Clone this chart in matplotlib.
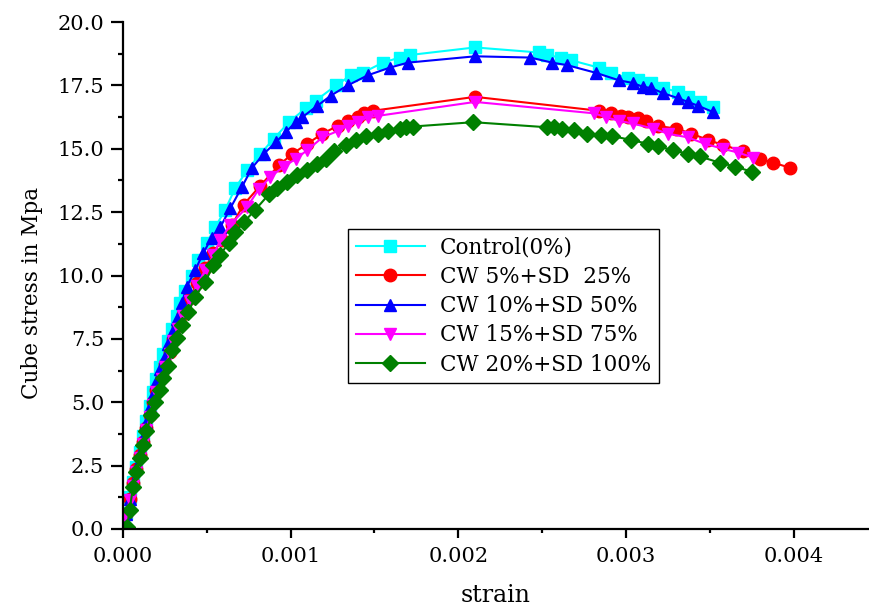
import matplotlib
matplotlib.use("Agg")
import matplotlib.pyplot as plt
from matplotlib.ticker import MultipleLocator, FormatStrFormatter

plt.rcParams['font.family'] = ['DejaVu Serif', 'Liberation Serif']

# ---- data (strain, stress in MPa) ----
control_strain = [0, 0.00002, 0.00004, 0.00006, 0.00008, 0.0001, 0.00012, 0.00014, 0.00016, 0.00018,
                  0.0002, 0.00022, 0.00024, 0.00027, 0.00029, 0.00032, 0.00034, 0.00037, 0.00041,
                  0.00045, 0.0005, 0.00055, 0.00061, 0.00067, 0.00074, 0.00082, 0.0009, 0.00099,
                  0.00109, 0.00115, 0.00127, 0.00136, 0.00143, 0.00155, 0.00165, 0.00171, 0.0021,
                  0.00248, 0.00253, 0.00261, 0.00267, 0.00284, 0.00291, 0.00301, 0.00307, 0.00315,
                  0.00322, 0.00331, 0.00337, 0.00344, 0.00352]
control_stress = [0, 0.65, 1.25, 1.85, 2.45, 3.05, 3.65, 4.25, 4.85, 5.4,
                  5.9, 6.4, 6.9, 7.4, 7.9, 8.4, 8.9, 9.4, 10.0,
                  10.6, 11.3, 11.9, 12.6, 13.45, 14.15, 14.8, 15.4, 16.05,
                  16.6, 16.9, 17.5, 17.9, 18.0, 18.4, 18.6, 18.7, 19.0,
                  18.8, 18.7, 18.6, 18.5, 18.2, 18.0, 17.8, 17.7, 17.6,
                  17.4, 17.25, 17.05, 16.85, 16.65]

cw5_strain = [0, 0.00002, 0.00004, 0.00006, 0.00008, 0.0001, 0.00012, 0.00014, 0.00016, 0.00018,
              0.0002, 0.00023, 0.00025, 0.00028, 0.0003, 0.00033, 0.00036, 0.0004, 0.00044,
              0.00049, 0.00054, 0.00059, 0.00065, 0.00072, 0.00082, 0.00093, 0.00101, 0.0011,
              0.00119, 0.00128, 0.00134, 0.0014, 0.00144, 0.00149, 0.0021, 0.00284, 0.00291,
              0.00297, 0.00301, 0.00307, 0.00312, 0.00319, 0.0033, 0.00339, 0.00349, 0.00358,
              0.0037, 0.0038, 0.00388, 0.00398]
cw5_stress = [0, 0.6, 1.2, 1.8, 2.35, 2.9, 3.45, 4.0, 4.5, 5.0,
              5.5, 6.0, 6.5, 7.0, 7.5, 8.0, 8.5, 9.1, 9.7,
              10.3, 10.9, 11.4, 12.0, 12.8, 13.55, 14.35, 14.8, 15.2,
              15.6, 15.9, 16.1, 16.25, 16.4, 16.5, 17.05, 16.5, 16.4,
              16.3, 16.25, 16.2, 16.1, 15.9, 15.8, 15.6, 15.35, 15.15,
              14.9, 14.6, 14.45, 14.25]

cw10_strain = [0, 0.00002, 0.00004, 0.00006, 0.00008, 0.0001, 0.00012, 0.00014, 0.00016, 0.00018,
               0.0002, 0.00022, 0.00025, 0.00027, 0.0003, 0.00032, 0.00035, 0.00038, 0.00043,
               0.00048, 0.00053, 0.00058, 0.00064, 0.00071, 0.00077, 0.00084, 0.00091, 0.00097,
               0.00103, 0.00107, 0.00116, 0.00124, 0.00134, 0.00146, 0.00159, 0.0017, 0.0021,
               0.00243, 0.00256, 0.00265, 0.00282, 0.00296, 0.00304, 0.0031, 0.00315, 0.00322,
               0.00331, 0.00337, 0.00343, 0.00352]
cw10_stress = [0, 0.6, 1.2, 1.8, 2.4, 3.0, 3.6, 4.2, 4.8, 5.3,
               5.8, 6.3, 6.8, 7.3, 7.8, 8.3, 8.9, 9.55, 10.2,
               10.9, 11.5, 11.9, 12.65, 13.5, 14.25, 14.8, 15.25, 15.65,
               16.05, 16.25, 16.7, 17.1, 17.5, 17.9, 18.2, 18.4, 18.65,
               18.6, 18.4, 18.3, 18.0, 17.7, 17.6, 17.45, 17.4, 17.2,
               17.0, 16.85, 16.7, 16.45]

cw15_strain = [0, 0.00002, 0.00004, 0.00006, 0.00008, 0.0001, 0.00012, 0.00014, 0.00016, 0.00018,
               0.0002, 0.00023, 0.00025, 0.00028, 0.0003, 0.00033, 0.00036, 0.0004, 0.00044,
               0.00049, 0.00054, 0.00058, 0.00064, 0.00074, 0.00081, 0.00088, 0.00096, 0.00103,
               0.0011, 0.00119, 0.00128, 0.00134, 0.0014, 0.00146, 0.00152, 0.0021, 0.00281,
               0.00288, 0.00296, 0.00304, 0.00316, 0.00325, 0.00337, 0.00347, 0.00358, 0.00367,
               0.00376]
cw15_stress = [0, 0.55, 1.15, 1.7, 2.25, 2.8, 3.35, 3.9, 4.4, 4.9,
               5.4, 5.9, 6.4, 6.9, 7.4, 7.9, 8.4, 9.0, 9.6,
               10.2, 10.8, 11.4, 12.0, 12.7, 13.4, 13.9, 14.3, 14.6,
               14.95, 15.45, 15.7, 15.9, 16.05, 16.25, 16.3, 16.85, 16.4,
               16.25, 16.1, 16.0, 15.8, 15.6, 15.45, 15.2, 15.0, 14.85,
               14.65]

cw20_strain = [0, 0.000024, 0.00004, 0.00006, 0.00008, 0.0001, 0.00012, 0.00014, 0.00017, 0.00019,
               0.00022, 0.00024, 0.00027, 0.00029, 0.00032, 0.00035, 0.00039, 0.00043, 0.00049,
               0.00054, 0.00058, 0.00063, 0.00067, 0.00072, 0.00079, 0.00087, 0.00092, 0.00098,
               0.00104, 0.0011, 0.00116, 0.00121, 0.00126, 0.00133, 0.00139, 0.00145, 0.00152,
               0.00158, 0.00165, 0.00169, 0.00173, 0.00209, 0.00253, 0.00257, 0.00262, 0.00269,
               0.00277, 0.00285, 0.00292, 0.00303, 0.00313, 0.00319, 0.00328, 0.00337, 0.00344,
               0.00356, 0.00365, 0.00375]
cw20_stress = [0, 0.08, 0.75, 1.66, 2.25, 2.8, 3.3, 3.85, 4.5, 5.0,
               5.5, 5.95, 6.45, 7.05, 7.55, 8.05, 8.55, 9.15, 9.75,
               10.4, 10.8, 11.3, 11.7, 12.1, 12.6, 13.2, 13.45, 13.7,
               13.95, 14.15, 14.4, 14.6, 14.9, 15.15, 15.35, 15.5, 15.6,
               15.72, 15.8, 15.85, 15.88, 16.05, 15.85, 15.85, 15.8, 15.75,
               15.6, 15.55, 15.5, 15.35, 15.2, 15.1, 14.95, 14.8, 14.7,
               14.45, 14.3, 14.1]

series = [
    ("Control(0%)", control_strain, control_stress, "#00FFFF", "s"),
    ("CW 5%+SD  25%", cw5_strain, cw5_stress, "#FF0000", "o"),
    ("CW 10%+SD 50%", cw10_strain, cw10_stress, "#0000FF", "^"),
    ("CW 15%+SD 75%", cw15_strain, cw15_stress, "#FF00FF", "v"),
    ("CW 20%+SD 100%", cw20_strain, cw20_stress, "#008000", "D"),
]

fig = plt.figure(figsize=(8.69, 6.10), dpi=100)
ax = fig.add_axes([0.1415, 0.1328, 0.8585, 0.831])

for label, xs, ys, c, m in series:
    ms = 8 if m == "D" else 9
    ax.plot(xs, ys, color=c, marker=m, markersize=ms, linewidth=1.5,
            markeredgecolor=c, markerfacecolor=c, label=label)

ax.set_xlim(0, 0.00445)
ax.set_ylim(0, 20)
ax.xaxis.set_major_locator(MultipleLocator(0.001))
ax.xaxis.set_minor_locator(MultipleLocator(0.0005))
ax.yaxis.set_major_locator(MultipleLocator(2.5))
ax.yaxis.set_minor_locator(MultipleLocator(1.25))
ax.xaxis.set_major_formatter(FormatStrFormatter('%.3f'))
ax.yaxis.set_major_formatter(FormatStrFormatter('%.1f'))

for s in ['top', 'right']:
    ax.spines[s].set_visible(False)
for s in ['left', 'bottom']:
    ax.spines[s].set_linewidth(1.6)
ax.tick_params(axis='x', which='major', direction='out', length=6.5, width=1.6, labelsize=15, pad=6.5)
ax.tick_params(axis='x', which='minor', direction='out', length=3, width=1.6)
ax.tick_params(axis='y', which='major', direction='out', length=8.5, width=1.6, labelsize=15, pad=5)
ax.tick_params(axis='y', which='minor', direction='out', length=3.5, width=1.6)

ax.set_xlabel("strain", fontsize=17, labelpad=13)
ax.set_ylabel("Cube stress in Mpa", fontsize=15.5)
ax.yaxis.set_label_coords(-0.107, 0.465)

leg = ax.legend(loc='upper left', bbox_to_anchor=(0.302, 0.592), fontsize=15.5,
                frameon=True, fancybox=False, edgecolor='black', framealpha=1,
                handlelength=3.2, handletextpad=0.7, borderpad=0.35, labelspacing=0.34,
                borderaxespad=0)
leg.get_frame().set_linewidth(1.0)

fig.savefig("out.png", dpi=100)
